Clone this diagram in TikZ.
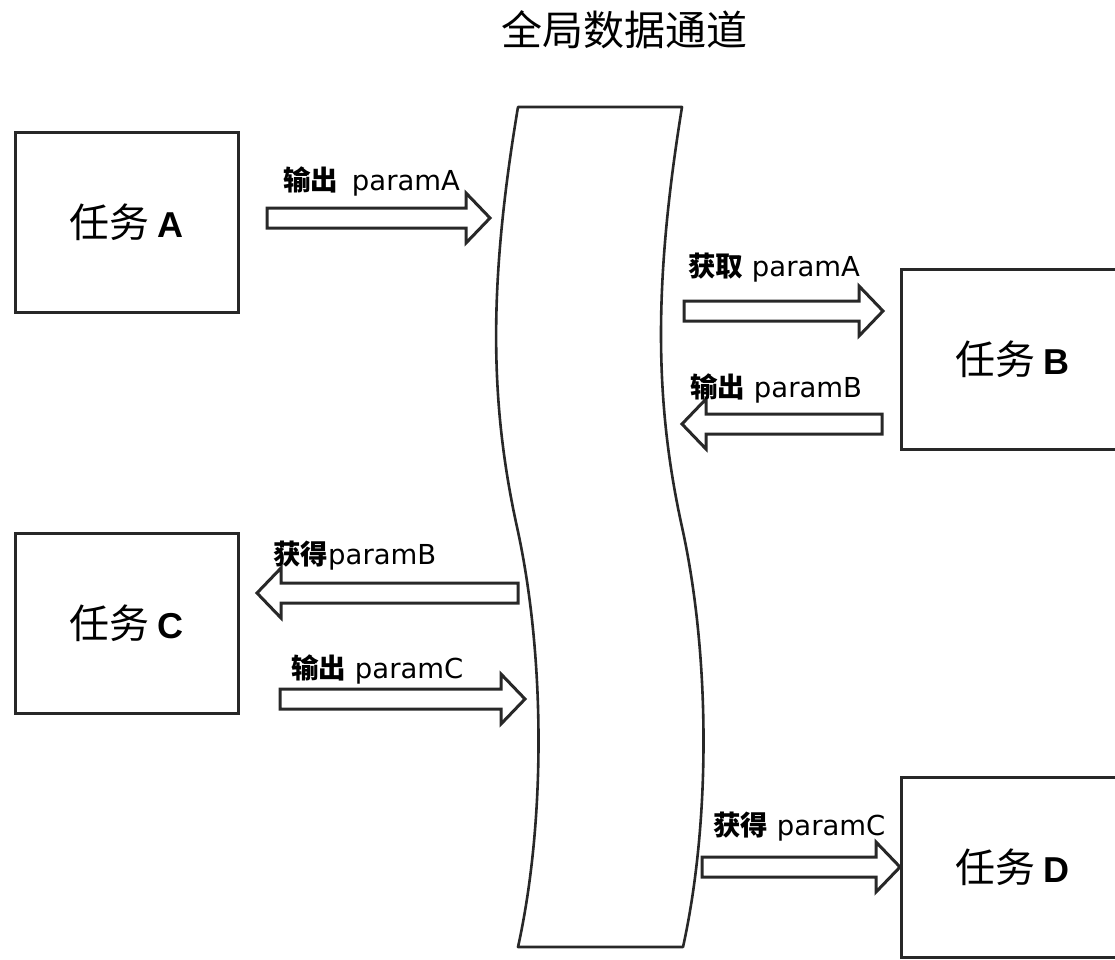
\documentclass[tikz,border=0pt]{standalone}
\usepackage{fontspec}
\setmainfont{DejaVu Sans}
\newfontfamily\cjk{Noto Sans CJK SC}
\newfontfamily\arialf{Liberation Sans}
\definecolor{linec}{RGB}{40,40,40}
\newcommand\rblk[3]{\draw[blk] ({#1},{#3-10}) -- ({#2-24},{#3-10}) -- ({#2-24},{#3-25}) -- ({#2},{#3}) -- ({#2-24},{#3+25}) -- ({#2-24},{#3+10}) -- ({#1},{#3+10}) -- cycle;}
\newcommand\lblk[3]{\draw[blk] ({#1},{#3-10}) -- ({#2+24},{#3-10}) -- ({#2+24},{#3-25}) -- ({#2},{#3}) -- ({#2+24},{#3+25}) -- ({#2+24},{#3+10}) -- ({#1},{#3+10}) -- cycle;}
\newcommand\tasktxt[1]{\cjk\fontsize{40}{40}\selectfont 任务 {\arialf\bfseries\fontsize{36}{36}\selectfont #1}}
\begin{document}
\begin{tikzpicture}[x=1pt,y=-1pt,
  taskbox/.style={draw=linec, line width=3pt, minimum width=223pt, minimum height=180pt, inner sep=0pt, fill=white},
  lbl/.style={anchor=base west, inner sep=0pt, font=\fontsize{27.5}{27.5}\selectfont},
  blk/.style={draw=linec, line width=3pt, fill=white, line join=miter},
  chan/.style={draw=linec, line width=2.6pt, line join=round, fill=white}]
\useasboundingbox (0,0) rectangle (1115,959);
\clip (0,0) rectangle (1115,959);
\fill[white] (0,0) rectangle (1115,959);

% title
\node[font=\cjk\fontsize{41}{41}\selectfont] (title) at (624,30) {全局数据通道};

% channel
\coordinate (tl) at (518,107);
\coordinate (tr) at (682,107);
\coordinate (bl) at (518,947);
\coordinate (br) at (683,947);
\path[chan] (tl) -- (tr)
  .. controls (654,280) and (654,400) .. (682,527)
  .. controls (710,654) and (711,820) .. (br)
  -- (bl)
  .. controls (546,820) and (545,654) .. (517,527)
  .. controls (489,400) and (489,280) .. (tl) -- cycle;

% task boxes
\node[taskbox] (A) at (126.5,222) {\tasktxt{A}};
\node[taskbox] (B) at (1012.5,359) {\tasktxt{B}};
\node[taskbox] (C) at (126.5,623) {\tasktxt{C}};
\node[taskbox] (D) at (1012.5,867) {\tasktxt{D}};

% block arrows
\rblk{267}{490}{218}
\rblk{684}{883}{311}
\lblk{882}{682}{424}
\lblk{518}{257}{593}
\rblk{280}{525}{699}
\rblk{702}{900}{867}

% labels
\node[lbl] (la) at (283,190) {{\cjk\bfseries 输出}\hspace{5pt} paramA};
\node[lbl] (lb) at (688,276) {{\cjk\bfseries 获取} paramA};
\node[lbl] (lc) at (690,397) {{\cjk\bfseries 输出} paramB};
\node[lbl] (ld) at (273,564) {{\cjk\bfseries 获得}paramB};
\node[lbl] (le) at (291,678) {{\cjk\bfseries 输出} paramC};
\node[lbl] (lf) at (713,835) {{\cjk\bfseries 获得} paramC};
\end{tikzpicture}
\end{document}
